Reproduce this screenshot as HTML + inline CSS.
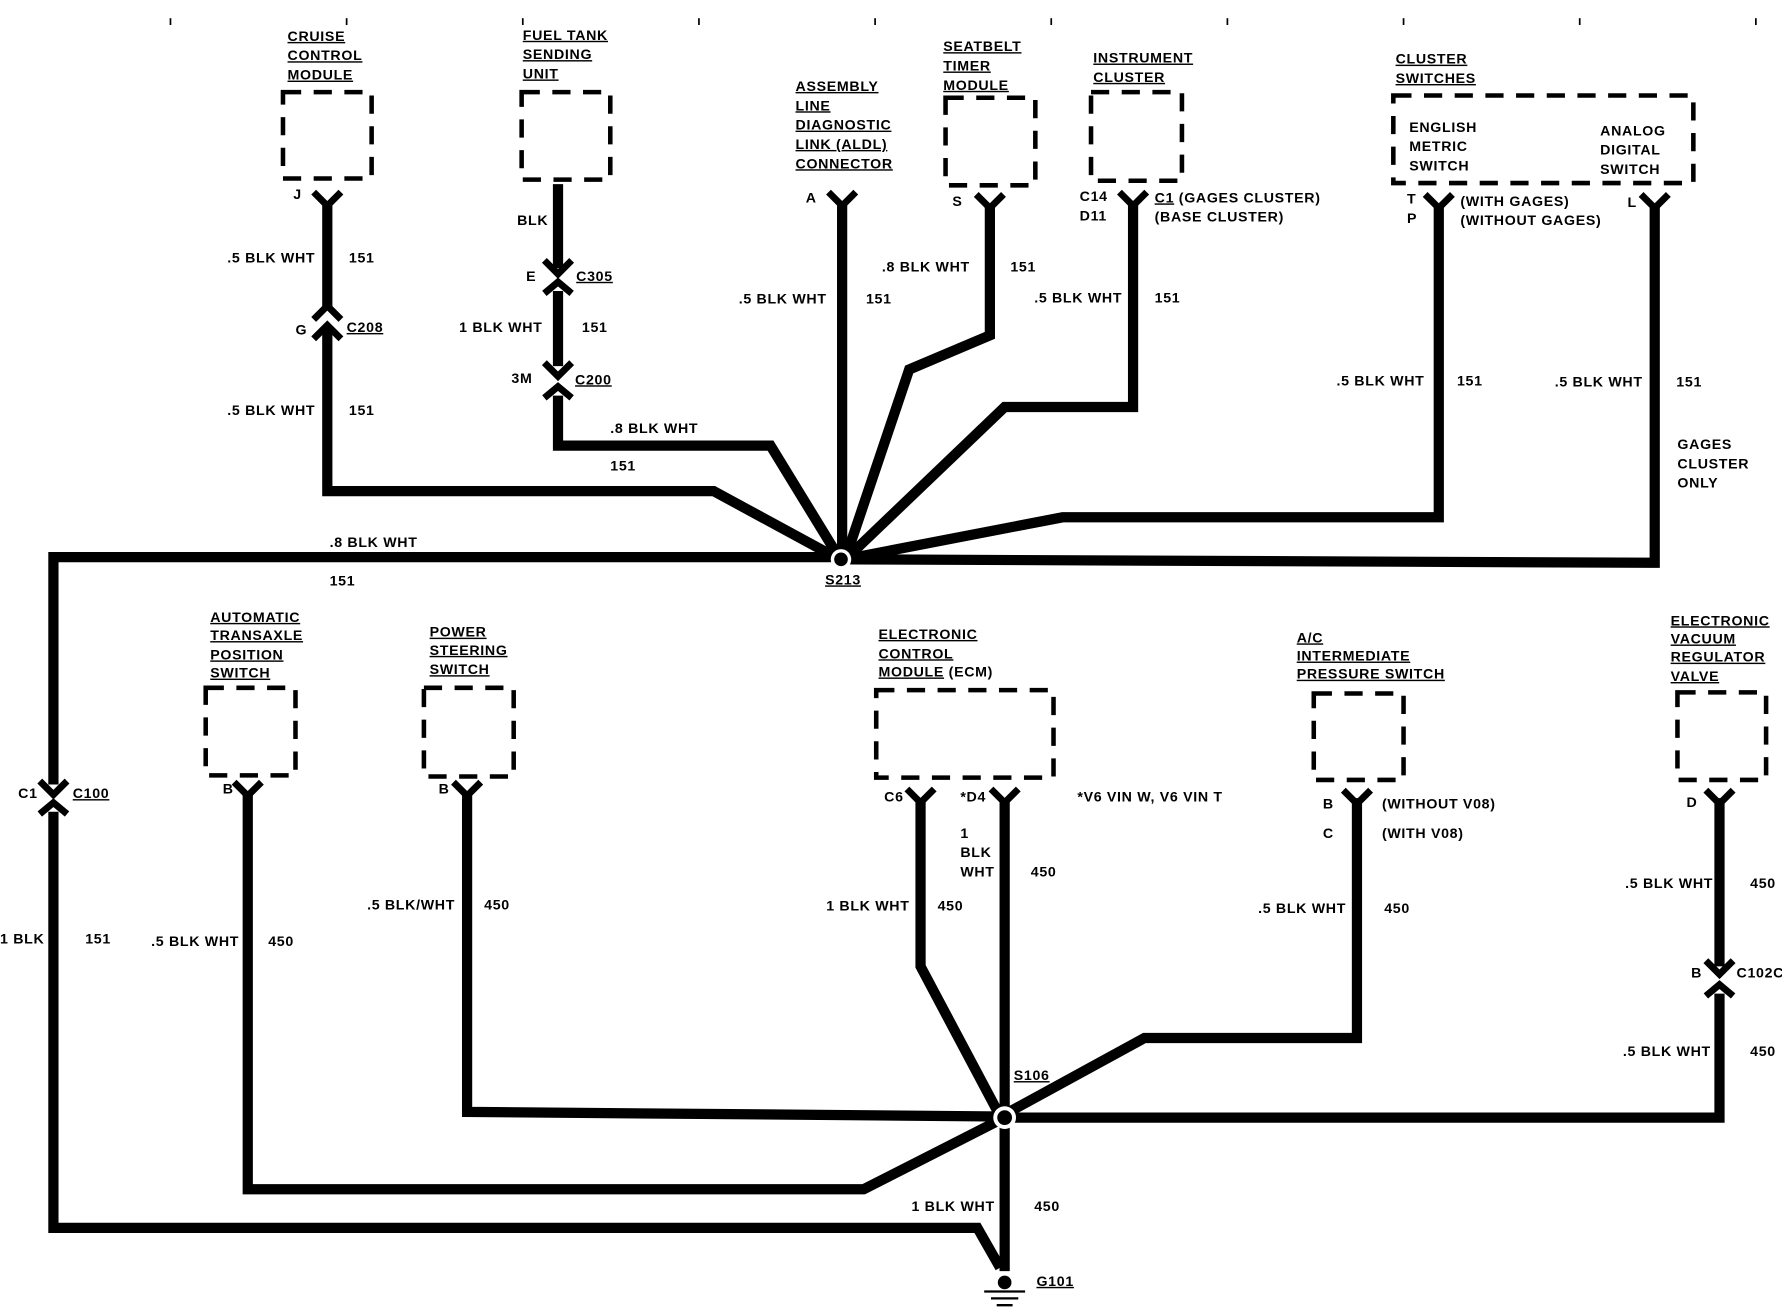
<!DOCTYPE html>
<html><head><meta charset="utf-8"><style>
html,body{margin:0;padding:0;background:#fff;}
svg{display:block;}
text{font-family:"Liberation Sans","DejaVu Sans",sans-serif;font-weight:bold;font-size:12.5px;fill:#000;letter-spacing:0.6px;}
.u{text-decoration:underline;}
</style></head><body>
<svg width="1782" height="1312" viewBox="0 0 1568 1154" preserveAspectRatio="none" xmlns="http://www.w3.org/2000/svg">
<g stroke="#000" stroke-width="1.5">
<line x1="150" y1="16" x2="150" y2="22"/><line x1="305" y1="16" x2="305" y2="22"/><line x1="460" y1="16" x2="460" y2="22"/><line x1="615" y1="16" x2="615" y2="22"/><line x1="770" y1="16" x2="770" y2="22"/><line x1="925" y1="16" x2="925" y2="22"/><line x1="1080" y1="16" x2="1080" y2="22"/><line x1="1235" y1="16" x2="1235" y2="22"/><line x1="1390" y1="16" x2="1390" y2="22"/><line x1="1545" y1="16" x2="1545" y2="22"/>
</g>
<g fill="none" stroke="#000" stroke-width="4" stroke-dasharray="16,11">
<rect x="249" y="81" width="78" height="76"/>
<rect x="459" y="81" width="78" height="77"/>
<rect x="832" y="86" width="79" height="77"/>
<rect x="960" y="81" width="80" height="78"/>
<rect x="1226" y="84" width="264" height="77"/>
<rect x="181" y="605" width="79" height="77"/>
<rect x="373" y="605" width="79" height="78"/>
<rect x="771" y="607" width="156" height="77"/>
<rect x="1156" y="610" width="79" height="76"/>
<rect x="1476" y="609" width="78" height="77"/>
</g>
<g fill="none" stroke="#000" stroke-width="9" stroke-linejoin="miter">
<polyline points="288,180 288,270"/>
<polyline points="288,290 288,432 628,432 735,490"/>
<polyline points="491,162 491,236"/>
<polyline points="491,256 491,322"/>
<polyline points="491,348 491,392 678,392 738,490"/>
<polyline points="741,180 741,490"/>
<polyline points="871,180 871,295 800,325 745,488"/>
<polyline points="997,180 997,358 884,358 746,490"/>
<polyline points="1266,180 1266,455 935,455 748,491"/>
<polyline points="1456,180 1456,495 748,492"/>
<polyline points="735,490 47,490 47,690"/>
<polyline points="47,714 47,1080 860,1080 880,1115"/>
<polyline points="218,697 218,1046 760,1046 880,985"/>
<polyline points="411,697 411,978 880,982"/>
<polyline points="810,702 810,850 878,978"/>
<polyline points="884,702 884,975"/>
<polyline points="1194,702 1194,913 1007,913 888,978"/>
<polyline points="1513,702 1513,850"/>
<polyline points="1513,874 1513,983 890,983"/>
<polyline points="884,990 884,1118"/>
</g>
<g fill="none" stroke="#000" stroke-width="6">
<polyline points="276,169 288,181 300,169"/><polyline points="729,169 741,181 753,169"/>
<polyline points="859,171 871,183 883,171"/><polyline points="985,169 997,181 1009,169"/>
<polyline points="1254,171 1266,183 1278,171"/><polyline points="1444,171 1456,183 1468,171"/>
<polyline points="206,688 218,700 230,688"/><polyline points="399,688 411,700 423,688"/>
<polyline points="798,694 810,706 822,694"/><polyline points="872,694 884,706 896,694"/>
<polyline points="1182,695 1194,707 1206,695"/><polyline points="1501,695 1513,707 1525,695"/>
<polyline points="276,281 288,269 300,281"/><polyline points="276,298 288,286 300,298"/>
<polyline points="479,229 491,241 503,229"/><polyline points="479,258 491,248 503,258"/>
<polyline points="479,319 491,331 503,319"/><polyline points="479,350 491,340 503,350"/>
<polyline points="35,687 47,699 59,687"/><polyline points="35,716 47,706 59,716"/>
<polyline points="1501,845 1513,857 1525,845"/><polyline points="1501,876 1513,866 1525,876"/>
</g>
<circle cx="740" cy="492" r="9" fill="#fff"/><circle cx="740" cy="492" r="6" fill="#000"/>
<circle cx="884" cy="983" r="10" fill="#fff"/><circle cx="884" cy="983" r="6.5" fill="#000"/>
<circle cx="884" cy="1128" r="6" fill="#000"/>
<g stroke="#000" stroke-width="2"><line x1="866" y1="1136" x2="902" y2="1136"/><line x1="872" y1="1142" x2="896" y2="1142"/><line x1="877" y1="1148" x2="891" y2="1148"/></g>
<text class="u" x="253" y="36">CRUISE</text><text class="u" x="253" y="53">CONTROL</text><text class="u" x="253" y="70">MODULE</text>
<text class="u" x="460" y="35">FUEL TANK</text><text class="u" x="460" y="52">SENDING</text><text class="u" x="460" y="69">UNIT</text>
<text class="u" x="700" y="80">ASSEMBLY</text><text class="u" x="700" y="97">LINE</text><text class="u" x="700" y="114">DIAGNOSTIC</text><text class="u" x="700" y="131">LINK (ALDL)</text><text class="u" x="700" y="148">CONNECTOR</text>
<text class="u" x="830" y="45">SEATBELT</text><text class="u" x="830" y="62">TIMER</text><text class="u" x="830" y="79">MODULE</text>
<text class="u" x="962" y="55">INSTRUMENT</text><text class="u" x="962" y="72">CLUSTER</text>
<text class="u" x="1228" y="56">CLUSTER</text><text class="u" x="1228" y="73">SWITCHES</text>
<text x="1240" y="116">ENGLISH</text><text x="1240" y="133">METRIC</text><text x="1240" y="150">SWITCH</text>
<text x="1408" y="119">ANALOG</text><text x="1408" y="136">DIGITAL</text><text x="1408" y="153">SWITCH</text>
<text x="258" y="175">J</text>
<text x="200" y="231">.5 BLK WHT</text><text x="307" y="231">151</text>
<text x="260" y="294">G</text><text class="u" x="305" y="292">C208</text>
<text x="200" y="365">.5 BLK WHT</text><text x="307" y="365">151</text>
<text x="455" y="198">BLK</text>
<text x="463" y="247">E</text><text class="u" x="507" y="247">C305</text>
<text x="404" y="292">1 BLK WHT</text><text x="512" y="292">151</text>
<text x="450" y="337">3M</text><text class="u" x="506" y="338">C200</text>
<text x="537" y="381">.8 BLK WHT</text><text x="537" y="414">151</text>
<text x="709" y="178">A</text>
<text x="650" y="267">.5 BLK WHT</text><text x="762" y="267">151</text>
<text x="838" y="181">S</text>
<text x="776" y="239">.8 BLK WHT</text><text x="889" y="239">151</text>
<text x="950" y="177">C14</text><text x="950" y="194">D11</text>
<text x="1016" y="178"><tspan class="u">C1</tspan> (GAGES CLUSTER)</text><text x="1016" y="195">(BASE CLUSTER)</text>
<text x="910" y="266">.5 BLK WHT</text><text x="1016" y="266">151</text>
<text x="1238" y="179">T</text><text x="1238" y="196">P</text>
<text x="1285" y="181">(WITH GAGES)</text><text x="1285" y="198">(WITHOUT GAGES)</text>
<text x="1432" y="182">L</text>
<text x="1176" y="339">.5 BLK WHT</text><text x="1282" y="339">151</text>
<text x="1368" y="340">.5 BLK WHT</text><text x="1475" y="340">151</text>
<text x="1476" y="395">GAGES</text><text x="1476" y="412">CLUSTER</text><text x="1476" y="429">ONLY</text>
<text x="290" y="481">.8 BLK WHT</text><text x="290" y="515">151</text>
<text class="u" x="726" y="514">S213</text>
<text x="16" y="702">C1</text><text class="u" x="64" y="702">C100</text>
<text x="0" y="830">1 BLK</text><text x="75" y="830">151</text>
<text class="u" x="185" y="547">AUTOMATIC</text><text class="u" x="185" y="563">TRANSAXLE</text><text class="u" x="185" y="580">POSITION</text><text class="u" x="185" y="596">SWITCH</text>
<text x="196" y="698">B</text>
<text x="133" y="832">.5 BLK WHT</text><text x="236" y="832">450</text>
<text class="u" x="378" y="560">POWER</text><text class="u" x="378" y="576">STEERING</text><text class="u" x="378" y="593">SWITCH</text>
<text x="386" y="698">B</text>
<text x="323" y="800">.5 BLK/WHT</text><text x="426" y="800">450</text>
<text class="u" x="773" y="562">ELECTRONIC</text><text class="u" x="773" y="579">CONTROL</text><text x="773" y="595"><tspan class="u">MODULE</tspan> (ECM)</text>
<text x="778" y="705">C6</text><text x="845" y="705">*D4</text><text x="948" y="705">*V6 VIN W, V6 VIN T</text>
<text x="845" y="737">1</text><text x="845" y="754">BLK</text><text x="845" y="771">WHT</text><text x="907" y="771">450</text>
<text x="727" y="801">1 BLK WHT</text><text x="825" y="801">450</text>
<text class="u" x="1141" y="565">A/C</text><text class="u" x="1141" y="581">INTERMEDIATE</text><text class="u" x="1141" y="597">PRESSURE SWITCH</text>
<text x="1164" y="711">B</text><text x="1164" y="737">C</text>
<text x="1216" y="711">(WITHOUT V08)</text><text x="1216" y="737">(WITH V08)</text>
<text x="1107" y="803">.5 BLK WHT</text><text x="1218" y="803">450</text>
<text class="u" x="1470" y="550">ELECTRONIC</text><text class="u" x="1470" y="566">VACUUM</text><text class="u" x="1470" y="582">REGULATOR</text><text class="u" x="1470" y="599">VALVE</text>
<text x="1484" y="710">D</text>
<text x="1430" y="781">.5 BLK WHT</text><text x="1540" y="781">450</text>
<text x="1488" y="860">B</text><text x="1528" y="860">C102C</text>
<text x="1428" y="929">.5 BLK WHT</text><text x="1540" y="929">450</text>
<text class="u" x="892" y="950">S106</text>
<text x="802" y="1065">1 BLK WHT</text><text x="910" y="1065">450</text>
<text class="u" x="912" y="1131">G101</text>
</svg>
</body></html>
